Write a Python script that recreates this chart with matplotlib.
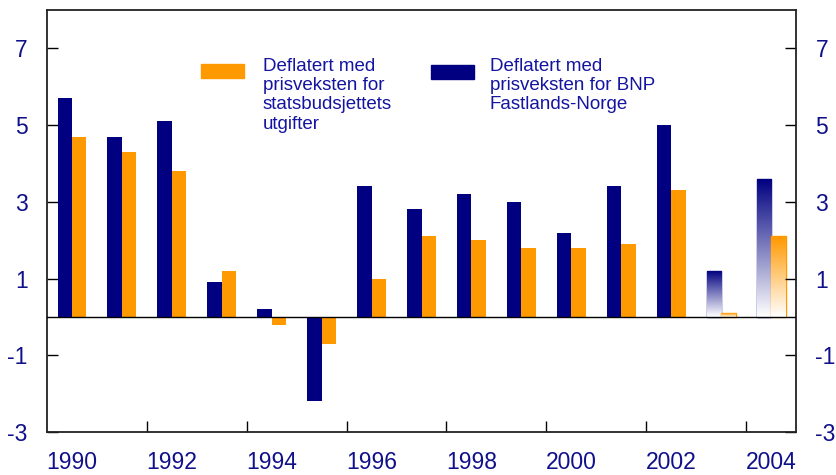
import numpy as np
import matplotlib
matplotlib.use("Agg")
import matplotlib.pyplot as plt
from matplotlib.colors import LinearSegmentedColormap
from matplotlib.patches import Rectangle

plt.rcParams['font.family'] = ['Liberation Sans', 'DejaVu Sans']
plt.rcParams['axes.unicode_minus'] = False

years = list(range(1990, 2005))
bnp = [5.7, 4.7, 5.1, 0.9, 0.2, -2.2, 3.4, 2.8, 3.2, 3.0, 2.2, 3.4, 5.0, 1.2, 3.6]
stat = [4.7, 4.3, 3.8, 1.2, -0.2, -0.7, 1.0, 2.1, 2.0, 1.8, 1.8, 1.9, 3.3, 0.1, 2.1]
projected = [2003, 2004]

label_stat = "Deflatert med\nprisveksten for\nstatsbudsjettets\nutgifter"
label_bnp = "Deflatert med\nprisveksten for BNP\nFastlands-Norge"

navy = "#000080"
orange = "#FF9900"
txt = "#10108a"

fig = plt.figure(figsize=(8.37, 4.75), dpi=100)
ax = fig.add_axes([0.0562, 0.0905, 0.8948, 0.8885])

w = 0.29


def gradient_bar(ax, xc, h, color):
    bar = ax.bar(xc, h, w, color="none", edgecolor=color, linewidth=1.0)[0]
    cmap = LinearSegmentedColormap.from_list("g", ["white", color])
    grad = np.linspace(0, 1, 100).reshape(-1, 1)
    im = ax.imshow(grad, cmap=cmap, aspect="auto", origin="lower",
                   extent=[xc - w / 2, xc + w / 2, 0, h], zorder=1)
    im.set_clip_path(bar)


for yr, b, s in zip(years, bnp, stat):
    if yr in projected:
        gradient_bar(ax, yr - w / 2, b, navy)
        gradient_bar(ax, yr + w / 2, s, orange)
    else:
        ax.bar(yr - w / 2, b, w, color=navy, zorder=2)
        ax.bar(yr + w / 2, s, w, color=orange, zorder=2)

ax.axhline(0, color="black", lw=1.0, zorder=3)

ax.set_xlim(1989.5, 2004.5)
ax.set_ylim(-3, 8)

ax.set_yticks([-3, -1, 1, 3, 5, 7])
ax.tick_params(axis="y", direction="in", length=8, width=1, pad=14,
               labelsize=16.5, labelcolor=txt, right=True, labelright=True)
ax.set_xticks(years[::2])
ax.set_xticks(np.arange(1991.5, 2004, 2), minor=True)
ax.tick_params(axis="x", which="major", length=0, pad=14, labelsize=16.5,
               labelcolor=txt)
ax.tick_params(axis="x", which="minor", direction="in", length=8, width=1)

for sp in ax.spines.values():
    sp.set_linewidth(1.3)
    sp.set_color("#222222")

# legend drawn by hand
fig.patches.append(Rectangle((201 / 837, 1 - 78 / 475), 43 / 837, 14 / 475,
                             transform=fig.transFigure, color=orange))
fig.patches.append(Rectangle((431 / 837, 1 - 79 / 475), 43 / 837, 14 / 475,
                             transform=fig.transFigure, color=navy))
fig.text(263 / 837, 1 - 58 / 475, label_stat, fontsize=13.5, color="#1414a0",
         va="top", linespacing=1.17)
fig.text(490 / 837, 1 - 58 / 475, label_bnp, fontsize=13.5, color="#1414a0",
         va="top", linespacing=1.17)

fig.savefig("out.png", dpi=100)
